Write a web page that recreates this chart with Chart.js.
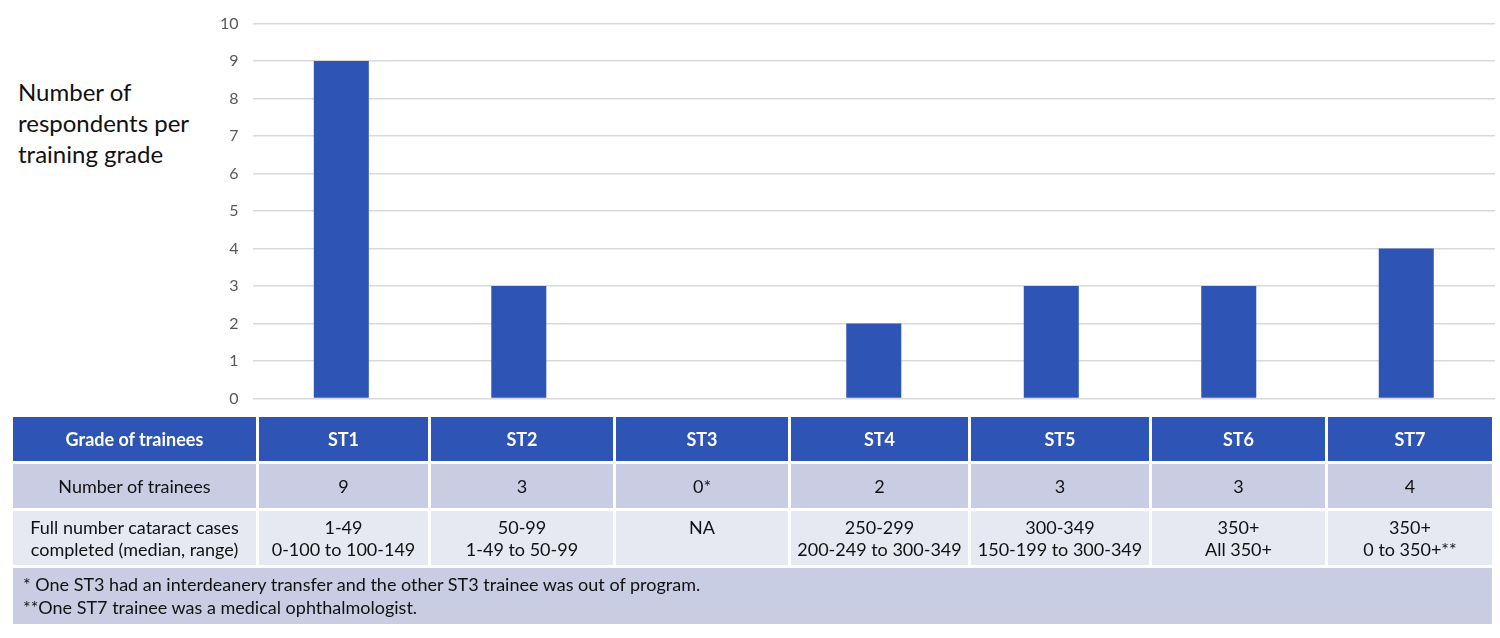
<!DOCTYPE html>
<html>
<head>
<meta charset="utf-8">
<script src="https://cdn.jsdelivr.net/npm/chart.js@4/dist/chart.umd.min.js"></script>
<style>
    body { margin: 0; background: #fff; font-family: Lato, "Open Sans", sans-serif; }
    #wrap { position: relative; width: 1500px; height: 638px; }
    #chart-box { position: absolute; left: 198px; top: 0; width: 1302px; height: 422px; }
    #ytitle { position: absolute; left: 18px; top: 76px; font-size: 24px; line-height: 31px; color: #111; }
    table { position: absolute; left: 10px; top: 414px; width: 1482px; border-collapse: collapse; table-layout: fixed; }
    td { text-align: center; border: 3px solid #fff; font-size: 18px; color: #111; padding: 0; }
    tr.head td { background: #2E55B5; color: #fff; font-weight: bold; height: 44px; }
    tr.count td { background: #C8CDE4; height: 44px; }
    tr.cases td { background: #E6E8F2; height: 54px; line-height: 22px; }
    tr.note td { background: #C8CDE4; text-align: left; padding: 4px 10px; line-height: 23px; height: 48px; }
</style>
</head>
<body>
<div id="wrap">
    <div id="ytitle">Number of<br>respondents per<br>training grade</div>
    <div id="chart-box"><canvas id="c"></canvas></div>
    <table id="tbl"></table>
</div>
<script>
const grades = ['ST1', 'ST2', 'ST3', 'ST4', 'ST5', 'ST6', 'ST7'];
const respondents = [9, 3, 0, 2, 3, 3, 4];
const traineeLabels = ['9', '3', '0*', '2', '3', '3', '4'];
const casesMedian = ['1-49', '50-99', 'NA', '250-299', '300-349', '350+', '350+'];
const casesRange = ['0-100 to 100-149', '1-49 to 50-99', '', '200-249 to 300-349', '150-199 to 300-349', 'All 350+', '0 to 350+**'];
const notes = [
    '* One ST3 had an interdeanery transfer and the other ST3 trainee was out of program.',
    '**One ST7 trainee was a medical ophthalmologist.'
];
const colWidths = [246, 172, 185, 175, 180, 181, 176, 167];

function buildTable() {
    var tbl = document.getElementById('tbl');
    var cg = document.createElement('colgroup');
    colWidths.forEach(w => {
        var col = document.createElement('col');
        col.style.width = w + 'px';
        cg.appendChild(col);
    });
    tbl.appendChild(cg);

    function addRow(cls, first, cells) {
        var tr = document.createElement('tr');
        tr.className = cls;
        var td = document.createElement('td');
        td.innerHTML = first;
        tr.appendChild(td);
        cells.forEach(c => {
            var cell = document.createElement('td');
            cell.innerHTML = c;
            tr.appendChild(cell);
        });
        tbl.appendChild(tr);
    }

    addRow('head', 'Grade of trainees', grades);
    addRow('count', 'Number of trainees', traineeLabels);
    addRow('cases', 'Full number cataract cases<br>completed (median, range)',
        casesMedian.map((m, i) => m + '<br>' + (casesRange[i] || '&nbsp;')));

    var tr = document.createElement('tr');
    tr.className = 'note';
    var td = document.createElement('td');
    td.colSpan = 8;
    td.innerHTML = notes.join('<br>');
    tr.appendChild(td);
    tbl.appendChild(tr);
}

buildTable();

new Chart(document.getElementById('c'), {
    type: 'bar',
    data: {
        labels: grades,
        datasets: [{
            data: respondents,
            backgroundColor: '#2E55B5',
            categoryPercentage: 1.0,
            barPercentage: 0.31
        }]
    },
    options: {
        responsive: true,
        maintainAspectRatio: false,
        animation: false,
        layout: { padding: { left: 8, right: 5, top: 19, bottom: 0 } },
        plugins: { legend: { display: false }, tooltip: { enabled: false } },
        scales: {
            x: {
                display: false
            },
            y: {
                min: 0,
                max: 10,
                ticks: { stepSize: 1, padding: 14, color: '#595959', font: { family: 'Lato', size: 16 } },
                grid: { color: '#D9D9D9', lineWidth: 1.5, drawTicks: false },
                border: { display: false }
            }
        }
    }
});
</script>
</body>
</html>
